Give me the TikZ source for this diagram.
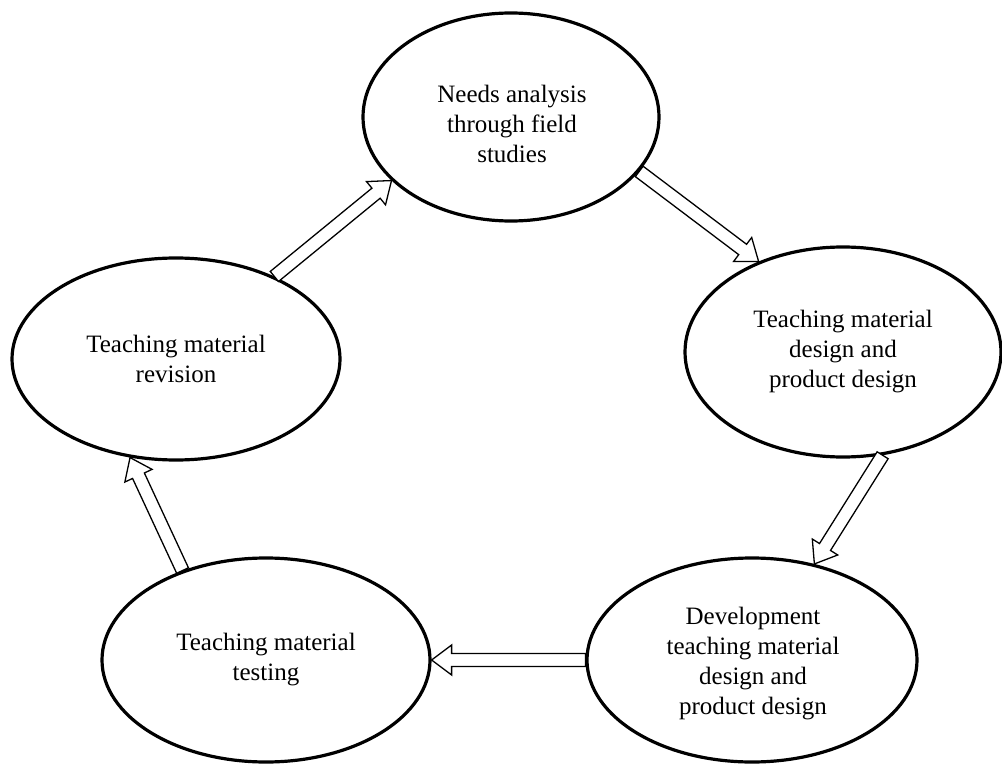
\documentclass[tikz,border=0pt]{standalone}
\usepackage{fontspec}
\setmainfont{Liberation Serif}
\usetikzlibrary{shapes.geometric,calc}
\tikzset{
  stage/.style={draw, ellipse, line width=3.2pt, inner sep=0pt, align=center,
    font=\fontsize{25}{30}\selectfont},
  stagetext/.style={align=center, inner sep=0pt, font=\fontsize{25}{30}\selectfont},
  blockarr/.style={draw, fill=white, line width=1.3pt, line join=miter}
}
\newcommand{\blockarrow}[2]{%
  \coordinate (ba-hb) at ($(#2)!20pt!(#1)$);
  \draw[blockarr] ($(#1)!6.5pt!90:(#2)$) -- ($(ba-hb)!6.5pt!90:(#2)$) -- ($(ba-hb)!15pt!90:(#2)$) -- (#2)
    -- ($(ba-hb)!15pt!-90:(#2)$) -- ($(ba-hb)!6.5pt!-90:(#2)$) -- ($(#1)!6.5pt!-90:(#2)$) -- cycle;}
\begin{document}
\begin{tikzpicture}[x=1pt,y=-1pt]
\useasboundingbox (0,0) rectangle (1002,765);
\node[stage, minimum width=296pt, minimum height=208pt] (T) at (511,117) {};
\node[stagetext] (Tt) at (512,124) {Needs analysis\\through field\\studies};
\node[stage, minimum width=316pt, minimum height=210pt] (R) at (843,352) {Teaching material\\design and\\product design};
\node[stage, minimum width=330pt, minimum height=204pt] (BR) at (752,660) {};
\node[stagetext] (BRt) at (753,664) {Development\\teaching material\\design and\\product design};
\node[stage, minimum width=328pt, minimum height=204pt] (BL) at (266,660) {Teaching material\\testing};
\node[stage, minimum width=328pt, minimum height=202pt] (L) at (176,359) {Teaching material\\revision};
\coordinate (a1s) at (L.40);  \coordinate (a1e) at (T.208);
\coordinate (a2s) at (T.337); \coordinate (a2e) at (R.133);
\coordinate (a3s) at (R.291); \coordinate (a3e) at (BR.57);
\coordinate (a4s) at (BR.180); \coordinate (a4e) at (BL.0);
\coordinate (a5s) at (BL.133); \coordinate (a5e) at (L.245);
\blockarrow{a1s}{a1e}
\blockarrow{a2s}{a2e}
\blockarrow{a3s}{a3e}
\blockarrow{a4s}{a4e}
\blockarrow{a5s}{a5e}
\end{tikzpicture}
\end{document}
